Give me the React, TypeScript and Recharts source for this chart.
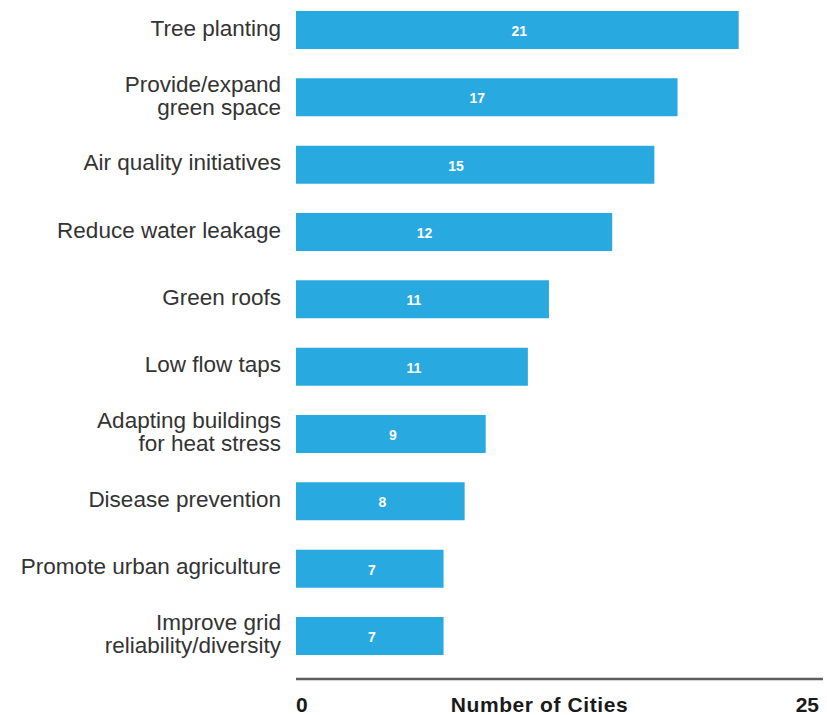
import React from "react";
import { BarChart, Bar, XAxis, YAxis, LabelList, Label } from "recharts";

// categories top to bottom
const categories = [
  "Tree planting",
  "Provide/expand\ngreen space",
  "Air quality initiatives",
  "Reduce water leakage",
  "Green roofs",
  "Low flow taps",
  "Adapting buildings\nfor heat stress",
  "Disease prevention",
  "Promote urban agriculture",
  "Improve grid\nreliability/diversity",
];

// bar lengths as drawn in the source figure (they don't all match the printed numbers)
const barLengths = [21, 18.1, 17, 15, 12, 11, 9, 8, 7, 7];

// numbers printed inside the bars
const cityCounts = [21, 17, 15, 12, 11, 11, 9, 8, 7, 7];

const xTicks = [0, 25];
const axisTitle = "Number of Cities";

const data = categories.map((name, i) => ({
  name,
  len: barLengths[i],
  count: cityCounts[i],
}));

const FONT = "'Liberation Sans', Arial, Helvetica, sans-serif";
const BLUE = "#28A9E0";

const CategoryTick = (props: any) => {
  const { x, y, payload } = props;
  const lines = String(payload.value).split("\n");
  const lh = 23;
  const top = y - 2 - ((lines.length - 1) * lh) / 2;
  return (
    <text textAnchor="end" fill="#333333" fontSize={22.5} fontFamily={FONT}>
      {lines.map((line, i) => (
        <tspan key={i} x={x} y={top + i * lh} dy="0.36em">
          {line}
        </tspan>
      ))}
    </text>
  );
};

const ValueTick = (props: any) => {
  const { x, y, payload } = props;
  const first = payload.value === xTicks[0];
  return (
    <text
      x={x}
      y={y + 25}
      dy="0.36em"
      textAnchor={first ? "start" : "end"}
      fill="#1a1a1a"
      fontSize={21}
      fontWeight="bold"
      fontFamily={FONT}
    >
      {payload.value}
    </text>
  );
};

const CountLabel = (props: any) => {
  const { x, y, width, height, index } = props;
  // place the printed count at the middle of its own value on the scale
  const cx = x + (width * cityCounts[index]) / barLengths[index] / 2 + 2;
  return (
    <text
      x={cx}
      y={y + height / 2 + 1}
      dy="0.36em"
      textAnchor="middle"
      fill="#ffffff"
      fontSize={14}
      fontWeight="bold"
      fontFamily={FONT}
    >
      {cityCounts[index]}
    </text>
  );
};

export default function App() {
  return (
    <div
      style={{
        position: "absolute",
        top: 0,
        left: 0,
        width: 827,
        height: 715,
        overflow: "hidden",
        background: "#fff",
      }}
    >
      <div style={{ position: "relative", top: -4 }}>
        <BarChart
          width={827}
          height={730}
          data={data}
          layout="vertical"
          margin={{ top: 0, right: 4, bottom: 0, left: 0 }}
        >
          <XAxis
            type="number"
            domain={[0, 25]}
            ticks={xTicks}
            height={47}
            tickSize={0}
            tickMargin={0}
            tickLine={false}
            axisLine={{ stroke: "#5e5e5e", strokeWidth: 2.5 }}
            tick={<ValueTick />}
          >
            <Label
              content={(p: any) => {
                const vb = p.viewBox;
                return (
                  <text
                    x={vb.x + vb.width / 2 - 20}
                    y={vb.y + 25}
                    dy="0.36em"
                    textAnchor="middle"
                    fill="#1a1a1a"
                    fontSize={21}
                    fontWeight="bold"
                    letterSpacing={0.6}
                    fontFamily={FONT}
                  >
                    {axisTitle}
                  </text>
                );
              }}
            />
          </XAxis>
          <YAxis
            type="category"
            dataKey="name"
            width={296}
            padding={{ top: 0, bottom: 9.7 }}
            tickSize={0}
            tickMargin={15}
            tickLine={false}
            axisLine={false}
            interval={0}
            tick={<CategoryTick />}
          />
          <Bar dataKey="len" fill={BLUE} barSize={38} isAnimationActive={false}>
            <LabelList dataKey="count" content={<CountLabel />} />
          </Bar>
        </BarChart>
      </div>
    </div>
  );
}
